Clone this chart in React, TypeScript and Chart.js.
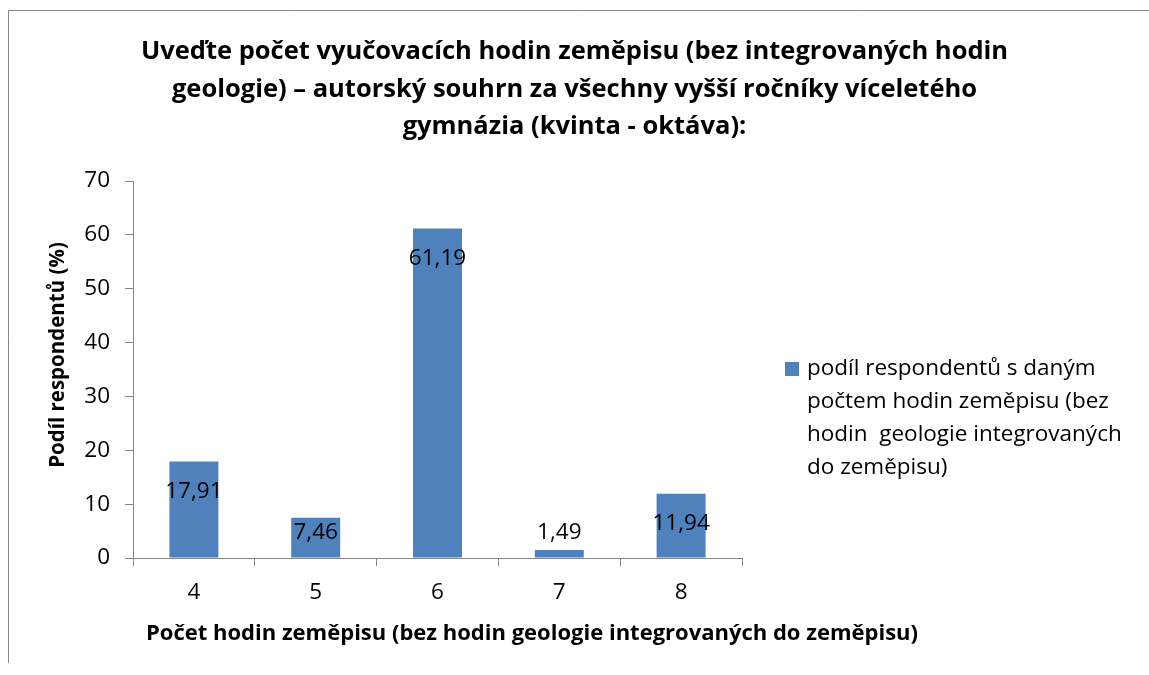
import React, { useEffect, useRef } from "react";
import { Chart, registerables } from "chart.js";

Chart.register(...registerables);

const categories = ["4", "5", "6", "7", "8"];
const shares = [17.91, 7.46, 61.19, 1.49, 11.94];
const yMin = 0;
const yMax = 70;
const yStep = 10;
const titleLines = [
  "Uveďte počet vyučovacích hodin zeměpisu (bez integrovaných hodin",
  "geologie) – autorský souhrn za všechny vyšší ročníky víceletého",
  "gymnázia (kvinta - oktáva):",
];
const legendLines = [
  "podíl respondentů s daným",
  "počtem hodin zeměpisu (bez",
  "hodin  geologie integrovaných",
  "do zeměpisu)",
];
const xAxisTitle = "Počet hodin zeměpisu (bez hodin geologie integrovaných do zeměpisu)";
const yAxisTitle = "Podíl respondentů (%)";

const FONT = "'Open Sans', Lato, sans-serif";
const BAR = "#4F81BD";
const AXIS = "#868686";

const formatValue = (v: number) => v.toFixed(2).replace(".", ",");

const decorPlugin = {
  id: "decor",
  beforeDraw(chart: any) {
    const ctx = chart.ctx;
    ctx.save();
    ctx.strokeStyle = AXIS;
    ctx.lineWidth = 1;
    ctx.beginPath();
    ctx.moveTo(8.5, 663);
    ctx.lineTo(8.5, 10.5);
    ctx.lineTo(1149, 10.5);
    ctx.stroke();
    // title
    ctx.font = `bold 25.5px ${FONT}`;
    ctx.fillStyle = "#000";
    ctx.textAlign = "center";
    ctx.textBaseline = "middle";
    titleLines.forEach((line, i) => {
      ctx.fillText(line, 574.5, 52 + i * 37.5);
    });
    ctx.restore();
  },
  afterDatasetsDraw(chart: any) {
    const ctx = chart.ctx;
    const area = chart.chartArea;
    ctx.save();
    // data labels
    const meta = chart.getDatasetMeta(0);
    ctx.font = `22.5px ${FONT}`;
    ctx.fillStyle = "#000";
    ctx.textAlign = "center";
    ctx.textBaseline = "middle";
    meta.data.forEach((bar: any, i: number) => {
      const v = chart.data.datasets[0].data[i];
      const y = Math.min(bar.y + 30, bar.base - 25);
      ctx.fillText(formatValue(v), bar.x, y);
    });
    // legend
    const lx = area.right + 43;
    const ly = 369;
    ctx.fillStyle = BAR;
    ctx.fillRect(lx, ly - 7, 14, 14);
    ctx.fillStyle = "#000";
    ctx.textAlign = "left";
    legendLines.forEach((line, i) => {
      ctx.fillText(line, lx + 22, ly + i * 33);
    });
    // axis titles
    ctx.font = `bold 22px ${FONT}`;
    ctx.textAlign = "center";
    ctx.fillText(xAxisTitle, 532, 634);
    ctx.font = `bold 20.5px ${FONT}`;
    ctx.save();
    ctx.translate(58, 355);
    ctx.rotate(-Math.PI / 2);
    ctx.fillText(yAxisTitle, 0, 0);
    ctx.restore();
    ctx.restore();
  },
};

export default function App() {
  const ref = useRef<HTMLCanvasElement>(null);
  useEffect(() => {
    document.body.style.margin = "0";
    const chart = new Chart(ref.current!, {
      type: "bar",
      data: {
        labels: categories,
        datasets: [
          {
            label: legendLines.join(" "),
            data: shares,
            backgroundColor: BAR,
            borderWidth: 0,
            barPercentage: 0.402,
            categoryPercentage: 1,
          },
        ],
      },
      options: {
        responsive: false,
        animation: false,
        devicePixelRatio: 1,
        layout: { padding: { left: 0, top: 181, right: 407, bottom: 57 } },
        plugins: {
          legend: { display: false },
          tooltip: { enabled: false },
          title: { display: false },
        },
        scales: {
          x: {
            offset: true,
            grid: {
              offset: true,
              drawOnChartArea: false,
              drawTicks: true,
              tickLength: 8,
              color: AXIS,
            },
            border: { display: true, color: AXIS },
            ticks: {
              color: "#000",
              font: { family: FONT, size: 22.5 },
              padding: 13,
            },
            afterFit: (s: any) => {
              s.height = 60;
            },
          },
          y: {
            min: yMin,
            max: yMax,
            grid: {
              drawOnChartArea: false,
              drawTicks: true,
              tickLength: 8,
              color: AXIS,
            },
            border: { display: true, color: AXIS },
            ticks: {
              stepSize: yStep,
              color: "#000",
              font: { family: FONT, size: 22.5 },
              padding: 15,
            },
            afterFit: (s: any) => {
              s.width = 133;
            },
          },
        },
      },
      plugins: [decorPlugin],
    });
    return () => chart.destroy();
  }, []);
  return (
    <div style={{ position: "fixed", left: 0, top: 0, width: 1149, height: 675, background: "#fff" }}>
      <canvas ref={ref} width={1149} height={675} />
    </div>
  );
}
